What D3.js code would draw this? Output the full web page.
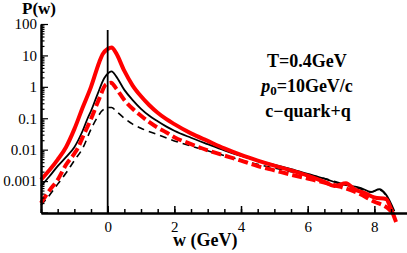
<!DOCTYPE html>
<html><head><meta charset="utf-8">
<script src="https://cdn.jsdelivr.net/npm/d3@7"></script>
<style>
html,body{margin:0;padding:0;background:#fff;}
svg{display:block;}
text{font-family:"Liberation Serif","Times New Roman",Times,serif;}
</style></head>
<body>
<svg id="chart" width="407" height="253"></svg>
<script>
// ---- data ----
const redSolidW = [-2,-1.75,-1.5,-1.25,-1,-0.75,-0.5,-0.25,-0.15,0,0.12,0.25,0.5,0.75,1,1.25,1.5,1.75,2,2.5,3,3.5,4,4.5,5,5.5,6,6.5,6.8,7.15,7.4,7.7,8,8.35,8.5,8.65];
const redSolidP = [0.0011,0.0022,0.0048,0.012,0.045,0.22,1.0,6.2,11,16,18,12,3.2,1.1,0.5,0.26,0.15,0.095,0.065,0.033,0.019,0.011,0.0068,0.0045,0.0031,0.0022,0.0015,0.00095,0.0007,0.00085,0.00055,0.00042,0.0003,0.00027,0.00013,0.00005];

const blackSolidW = [-2,-1.75,-1.5,-1.25,-1,-0.75,-0.6,-0.5,-0.3,-0.1,0.05,0.12,0.25,0.5,0.75,1,1.25,1.5,1.75,2,2.5,3,3.5,4,4.5,5,5.5,6,6.5,7,7.6,7.9,8.15,8.35,8.6];
const blackSolidP = [0.0007,0.0014,0.003,0.0058,0.012,0.04,0.1,0.17,0.6,1.9,2.9,3.1,2.2,0.8,0.38,0.2,0.12,0.08,0.055,0.04,0.024,0.015,0.0095,0.0063,0.0045,0.0033,0.0024,0.0017,0.0012,0.0008,0.0006,0.00045,0.00055,0.00037,0.00011];

const redDashW = [-2,-1.75,-1.5,-1.25,-1,-0.9,-0.75,-0.5,-0.25,-0.05,0.1,0.25,0.5,0.75,1,1.25,1.5,1.75,2,2.5,3,3.5,4,4.5,5,5.5,6,6.5,7,7.5,8,8.35,8.5];
const redDashP = [0.0002,0.0005,0.0011,0.0033,0.0075,0.011,0.025,0.095,0.43,1.2,1.35,0.9,0.38,0.2,0.12,0.075,0.05,0.036,0.025,0.015,0.0095,0.0065,0.0045,0.003,0.0022,0.0016,0.0012,0.0009,0.00065,0.00042,0.00022,0.00015,0.00011];

const blackDashW = [-2,-1.75,-1.5,-1.25,-1,-0.75,-0.5,-0.3,-0.15,0.05,0.12,0.25,0.5,0.75,1,1.5,2,2.5,3,3.5,4,4.5,5,5.5,6,6.5,7,7.5,7.9,8.15,8.35,8.55];
const blackDashP = [0.00017,0.00035,0.0008,0.0018,0.0045,0.011,0.045,0.11,0.18,0.22,0.22,0.17,0.1,0.065,0.048,0.03,0.019,0.013,0.0092,0.0065,0.0047,0.0034,0.0026,0.002,0.0016,0.0012,0.00085,0.0006,0.00045,0.00052,0.00035,0.00012];

const xMajorTicks = [0,2,4,6,8];
const xMinorTicks = d3.range(-2, 9.01, 0.5);
const yMajorTicks = [1e-4,1e-3,1e-2,1e-1,1,10,100];
const yTickLabels = {"0.001":"0.001","0.01":"0.01","0.1":"0.1","1":"1","10":"10","100":"100"};
const annotLines = ["T=0.4GeV","p0=10GeV/c","c\u2212quark+q"];

// ---- chart ----
const FONT = '"Liberation Serif","Times New Roman",Times,serif';
const svg = d3.select("#chart");
const x = d3.scaleLinear().domain([-2,9]).range([41,407.7]);
const y = d3.scaleLog().domain([1e-4,100]).range([212.5,24]);
const yAxisY = 213;

// curves
const line = d3.line().x(d=>x(d[0])).y(d=>y(d[1])).curve(d3.curveMonotoneX);
function series(ws, ps){ return ws.map((w,i)=>[w,ps[i]]); }
const curves = [
  {d:series(blackDashW,blackDashP), c:"#000", w:1.6, dash:"7,5"},
  {d:series(blackSolidW,blackSolidP), c:"#000", w:1.8, dash:null},
  {d:series(redDashW,redDashP), c:"#ff0000", w:4, dash:"10,4"},
  {d:series(redSolidW,redSolidP), c:"#ff0000", w:4, dash:null}
];
curves.forEach(cv=>{
  const p = svg.append("path").attr("d", line(cv.d)).attr("fill","none")
    .attr("stroke", cv.c).attr("stroke-width", cv.w).attr("stroke-linejoin","round");
  if(cv.dash) p.attr("stroke-dasharray", cv.dash);
});

// vertical line at w=0
svg.append("line").attr("x1",x(0)).attr("x2",x(0)).attr("y1",30).attr("y2",yAxisY)
  .attr("stroke","#000").attr("stroke-width",1.8);

// x axis
const gx = svg.append("g").attr("transform",`translate(0,${yAxisY})`);
gx.call(d3.axisBottom(x).tickValues(xMinorTicks).tickSize(-4).tickSizeOuter(0).tickFormat(""));
const gx2 = svg.append("g").attr("transform",`translate(0,${yAxisY})`);
gx2.call(d3.axisBottom(x).tickValues(xMajorTicks).tickSize(-7).tickSizeOuter(0).tickPadding(8).tickFormat(d3.format("d")));
[gx,gx2].forEach(g=>{
  g.attr("font-family",FONT);
  g.select(".domain").attr("stroke-width",2);
  g.selectAll(".tick line").attr("stroke-width",1.5);
});
gx2.selectAll("text").attr("font-size",15).attr("font-family",FONT).attr("fill","#000");

// y axis
const yMinor = [];
for(let e=-4;e<2;e++){ for(let k=2;k<=9;k++){ yMinor.push(k*Math.pow(10,e)); } }
const gy = svg.append("g").attr("transform","translate(41,0)");
gy.call(d3.axisLeft(y).tickValues(yMinor).tickSize(-3.5).tickSizeOuter(0).tickFormat(""));
const gy2 = svg.append("g").attr("transform","translate(41,0)");
gy2.call(d3.axisLeft(y).tickValues(yMajorTicks).tickSize(-7).tickSizeOuter(0).tickPadding(4)
  .tickFormat(d=>{ const k = String(+d.toPrecision(1)); return yTickLabels[k]||""; }));
[gy,gy2].forEach(g=>{
  g.attr("font-family",FONT);
  g.select(".domain").attr("stroke-width",2);
  g.selectAll(".tick line").attr("stroke-width",1.2);
});
gy2.selectAll("text").attr("font-size",15).attr("font-family",FONT).attr("fill","#000");

// axis titles
svg.append("text").attr("x",22).attr("y",14).attr("font-size",17).attr("font-weight","bold").attr("font-family",FONT).text("P(w)");
svg.append("text").attr("x",173).attr("y",246).attr("font-size",18).attr("font-weight","bold").attr("font-family",FONT).text("w (GeV)");

// annotation
const ax = 307;
svg.append("text").attr("x",ax).attr("y",67).attr("text-anchor","middle").attr("font-size",18).attr("font-weight","bold").attr("font-family",FONT).text(annotLines[0]);
const t2 = svg.append("text").attr("x",ax).attr("y",92).attr("text-anchor","middle").attr("font-size",18).attr("font-weight","bold").attr("font-family",FONT);
t2.append("tspan").attr("font-style","italic").text("p");
t2.append("tspan").attr("font-size",13).attr("dy",3).text("0");
t2.append("tspan").attr("dy",-3).text("=10GeV/c");
svg.append("text").attr("x",ax+1).attr("y",117).attr("text-anchor","middle").attr("font-size",18).attr("font-weight","bold").attr("font-family",FONT).text(annotLines[2]);
</script>
</body></html>
